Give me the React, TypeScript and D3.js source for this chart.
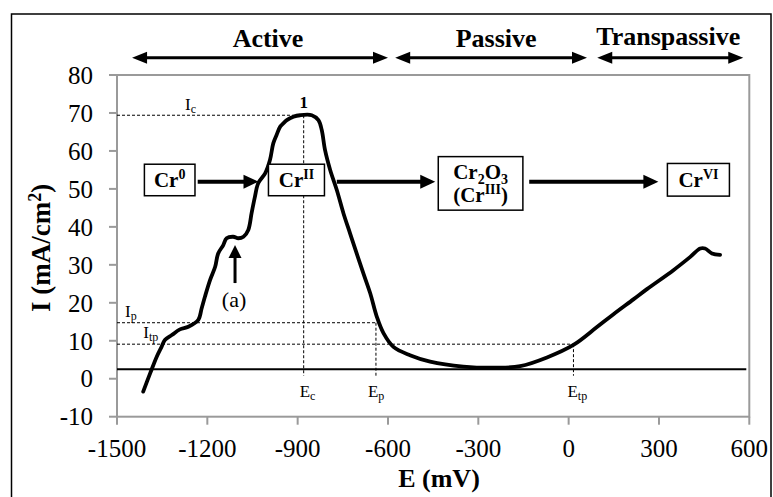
import * as d3 from "d3";

// polarization curve
const E_mV = [
  -1413, -1390, -1368, -1352, -1341, -1318, -1291, -1263, -1230, -1219, -1208,
  -1191, -1174, -1164, -1147, -1136, -1114, -1097, -1080, -1064, -1053, -1042,
  -1031, -1008, -992, -981, -970, -958, -947, -936, -914, -892, -853, -831,
  -820, -809, -792, -770, -748, -726, -704, -682, -659, -637, -615, -582, -527,
  -460, -350, -239, -161, -72, 16, 94, 149, 215, 260, 348, 404, 437, 453, 476,
  503,
];
const I_mA = [
  -3.4, 1.4, 5.8, 8.4, 10.2, 11.5, 13, 13.7, 15.5, 18.5, 21.6, 26, 29.5, 33,
  35.2, 37, 37.4, 37, 37.4, 39.2, 43.6, 47.9, 51.5, 54.1, 57.6, 62, 64.2, 66.4,
  67.3, 68.1, 69, 69.4, 69.4, 68.1, 65.5, 60.2, 55, 49.7, 43.6, 38.3, 33, 27.8,
  22.5, 16.3, 12, 8.4, 6.2, 4.5, 3.2, 2.9, 3.3, 5.6, 8.9, 13.6, 17, 20.9, 23.6,
  28.6, 32.1, 34.3, 34.3, 33, 32.6,
];

const xTicks = [-1500, -1200, -900, -600, -300, 0, 300, 600];
const yTicks = [-10, 0, 10, 20, 30, 40, 50, 60, 70, 80];

const baselineI = 2.5;

// characteristic points
const Ec = -880;
const Ic = 69.4;
const Ep = -640;
const Ip = 14.75;
const Etp = 16;
const Itp = 9.1;

// domains along the top
const regionLabels = ["Active", "Passive", "Transpassive"];
const regionFrom = [-1450, -576, 95];
const regionTo = [-600, 61, 580];
const regionLabelShift = [8, 5, -2];

// oxidation states
const boxLeft = [-1409, -997, -433, 328];
const boxRight = [-1241, -811, -152, 534];
const boxTop = [56.5, 56.5, 58.5, 56.7];
const boxBottom = [48.2, 48.2, 44.4, 48.1];
const stepFrom = [-1232, -770, -131];
const stepTo = [-1030, -443, 298];
const stepI = 51.9;

const peakA = { E: -1108, from: 25.2, to: 35.2, labelI: 19 };

const font = "'Liberation Serif', 'Times New Roman', serif";

function Arrow({
  x1,
  x2,
  y1,
  y2,
  width,
  head,
  half,
  both,
}: {
  x1: number;
  x2: number;
  y1: number;
  y2: number;
  width: number;
  head: number;
  half: number;
  both?: boolean;
}) {
  const len = Math.hypot(x2 - x1, y2 - y1);
  const ux = (x2 - x1) / len;
  const uy = (y2 - y1) / len;
  const tri = (tx: number, ty: number, dx: number, dy: number) => {
    const bx = tx - dx * head;
    const by = ty - dy * head;
    return `${tx},${ty} ${bx - dy * half},${by + dx * half} ${bx + dy * half},${by - dx * half}`;
  };
  const sx = both ? x1 + ux * (head - 1) : x1;
  const sy = both ? y1 + uy * (head - 1) : y1;
  return (
    <g>
      <line
        x1={sx}
        y1={sy}
        x2={x2 - ux * (head - 1)}
        y2={y2 - uy * (head - 1)}
        stroke="#000"
        strokeWidth={width}
      />
      <polygon points={tri(x2, y2, ux, uy)} fill="#000" />
      {both && <polygon points={tri(x1, y1, -ux, -uy)} fill="#000" />}
    </g>
  );
}

export default function App() {
  const width = 773;
  const height = 497;
  const x = d3.scaleLinear().domain([-1500, 600]).range([117, 749.3]);
  const y = d3.scaleLinear().domain([-10, 80]).range([416.7, 75]);

  const pts = E_mV.map((e, i) => [e, I_mA[i]] as [number, number]);
  const path = d3
    .line<[number, number]>()
    .x((d) => x(d[0]))
    .y((d) => y(d[1]))
    .curve(d3.curveCatmullRom.alpha(0.5))(pts)!;

  const axisColor = "#9a9a9a";
  const dash = "3,2";
  const dropTo = y(0.8);

  return (
    <svg
      width={width}
      height={height}
      style={{ position: "absolute", left: 0, top: 0, display: "block" }}
      fontFamily={font}
    >
      <rect x={0} y={0} width={width} height={height} fill="#fff" />
      <rect
        x={11.5}
        y={14}
        width={759.5}
        height={500}
        fill="none"
        stroke="#000"
        strokeWidth={1.5}
      />

      {/* plot frame */}
      <rect
        x={x(-1500)}
        y={y(80)}
        width={x(600) - x(-1500)}
        height={y(-10) - y(80)}
        fill="none"
        stroke={axisColor}
        strokeWidth={2}
      />
      {yTicks.map((t) => (
        <g key={"y" + t}>
          <line
            x1={x(-1500) - 8}
            x2={x(-1500)}
            y1={y(t)}
            y2={y(t)}
            stroke={axisColor}
            strokeWidth={2}
          />
          <text
            x={x(-1500) - 24}
            y={y(t)}
            dy="0.35em"
            textAnchor="end"
            fontSize={25}
          >
            {t}
          </text>
        </g>
      ))}
      {xTicks.map((t) => (
        <g key={"x" + t}>
          <line
            x1={x(t)}
            x2={x(t)}
            y1={y(-10)}
            y2={y(-10) + 8}
            stroke={axisColor}
            strokeWidth={2}
          />
          <text x={x(t)} y={457.3} textAnchor="middle" fontSize={25}>
            {t}
          </text>
        </g>
      ))}

      {/* axis titles */}
      <text
        x={439}
        y={487}
        textAnchor="middle"
        fontSize={26}
        fontWeight="bold"
      >
        E (mV)
      </text>
      <text
        transform={`translate(50,${(y(80) + y(-10)) / 2 + 2}) rotate(-90)`}
        textAnchor="middle"
        fontSize={27}
        fontWeight="bold"
      >
        I (mA/cm
        <tspan dy={-9} fontSize={18}>
          2
        </tspan>
        <tspan dy={9}>)</tspan>
      </text>

      {/* reference lines */}
      <line
        x1={x(-1500)}
        x2={x(590)}
        y1={y(baselineI)}
        y2={y(baselineI)}
        stroke="#000"
        strokeWidth={2}
      />
      <g stroke="#000" strokeWidth={1} strokeDasharray={dash} fill="none">
        <line x1={x(-1500)} x2={x(Ec)} y1={y(Ic)} y2={y(Ic)} />
        <line x1={x(Ec)} x2={x(Ec)} y1={y(Ic)} y2={dropTo} />
        <line x1={x(-1500)} x2={x(Ep)} y1={y(Ip)} y2={y(Ip)} />
        <line x1={x(Ep)} x2={x(Ep)} y1={y(Ip)} y2={dropTo} />
        <line x1={x(-1500)} x2={x(Etp)} y1={y(Itp)} y2={y(Itp)} />
        <line x1={x(Etp)} x2={x(Etp)} y1={y(Itp)} y2={dropTo} />
      </g>

      <path
        d={path}
        fill="none"
        stroke="#000"
        strokeWidth={3.8}
        strokeLinejoin="round"
        strokeLinecap="round"
      />

      {/* point labels */}
      <g fontSize={17}>
        <text x={185} y={110}>
          I<tspan dy={3} fontSize={12}>c</tspan>
        </text>
        <text x={125} y={317.3}>
          I<tspan dy={3} fontSize={12}>p</tspan>
        </text>
        <text x={143.3} y={338.3}>
          I<tspan dy={3} fontSize={12}>tp</tspan>
        </text>
        <text x={x(Ec) - 4} y={397.3}>
          E<tspan dy={3} fontSize={12}>c</tspan>
        </text>
        <text x={x(Ep) - 8} y={397.3}>
          E<tspan dy={3} fontSize={12}>p</tspan>
        </text>
        <text x={x(Etp) - 6} y={396.7}>
          E<tspan dy={3} fontSize={12}>tp</tspan>
        </text>
      </g>
      <text
        x={x(Ec)}
        y={108}
        textAnchor="middle"
        fontSize={17}
        fontWeight="bold"
      >
        1
      </text>

      {/* (a) */}
      <Arrow
        x1={x(peakA.E)}
        x2={x(peakA.E)}
        y1={y(peakA.from)}
        y2={y(peakA.to)}
        width={3}
        head={13}
        half={6.5}
      />
      <text
        x={x(peakA.E) - 1}
        y={y(peakA.labelI)}
        textAnchor="middle"
        fontSize={22}
      >
        (a)
      </text>

      {/* region arrows */}
      {regionLabels.map((lab, i) => (
        <g key={lab}>
          <Arrow
            x1={x(regionFrom[i])}
            x2={x(regionTo[i])}
            y1={57.7}
            y2={57.7}
            width={3}
            head={15}
            half={6}
            both
          />
          <text
            x={(x(regionFrom[i]) + x(regionTo[i])) / 2 + regionLabelShift[i]}
            y={i === 2 ? 45 : 47}
            textAnchor="middle"
            fontSize={26}
            fontWeight="bold"
          >
            {lab}
          </text>
        </g>
      ))}

      {/* oxidation state boxes */}
      {boxLeft.map((l, i) => (
        <rect
          key={"b" + i}
          x={x(l)}
          y={y(boxTop[i])}
          width={x(boxRight[i]) - x(l)}
          height={y(boxBottom[i]) - y(boxTop[i])}
          fill="#fff"
          stroke="#000"
          strokeWidth={1.5}
        />
      ))}
      {stepFrom.map((f, i) => (
        <Arrow
          key={"s" + i}
          x1={x(f)}
          x2={x(stepTo[i])}
          y1={y(stepI)}
          y2={y(stepI)}
          width={4}
          head={15}
          half={7}
        />
      ))}
      <g fontSize={21} fontWeight="bold" textAnchor="middle">
        <text x={(x(boxLeft[0]) + x(boxRight[0])) / 2} y={187}>
          Cr
          <tspan dy={-8} fontSize={14}>
            0
          </tspan>
        </text>
        <text x={(x(boxLeft[1]) + x(boxRight[1])) / 2} y={187}>
          Cr
          <tspan dy={-8} fontSize={14}>
            II
          </tspan>
        </text>
        <text x={(x(boxLeft[2]) + x(boxRight[2])) / 2} y={178.5}>
          Cr
          <tspan dy={5} fontSize={14}>
            2
          </tspan>
          <tspan dy={-5}>O</tspan>
          <tspan dy={5} fontSize={14}>
            3
          </tspan>
        </text>
        <text x={(x(boxLeft[2]) + x(boxRight[2])) / 2} y={201.7}>
          (Cr
          <tspan dy={-8} fontSize={14}>
            III
          </tspan>
          <tspan dy={8}>)</tspan>
        </text>
        <text x={(x(boxLeft[3]) + x(boxRight[3])) / 2} y={187}>
          Cr
          <tspan dy={-8} fontSize={14}>
            VI
          </tspan>
        </text>
      </g>
    </svg>
  );
}
